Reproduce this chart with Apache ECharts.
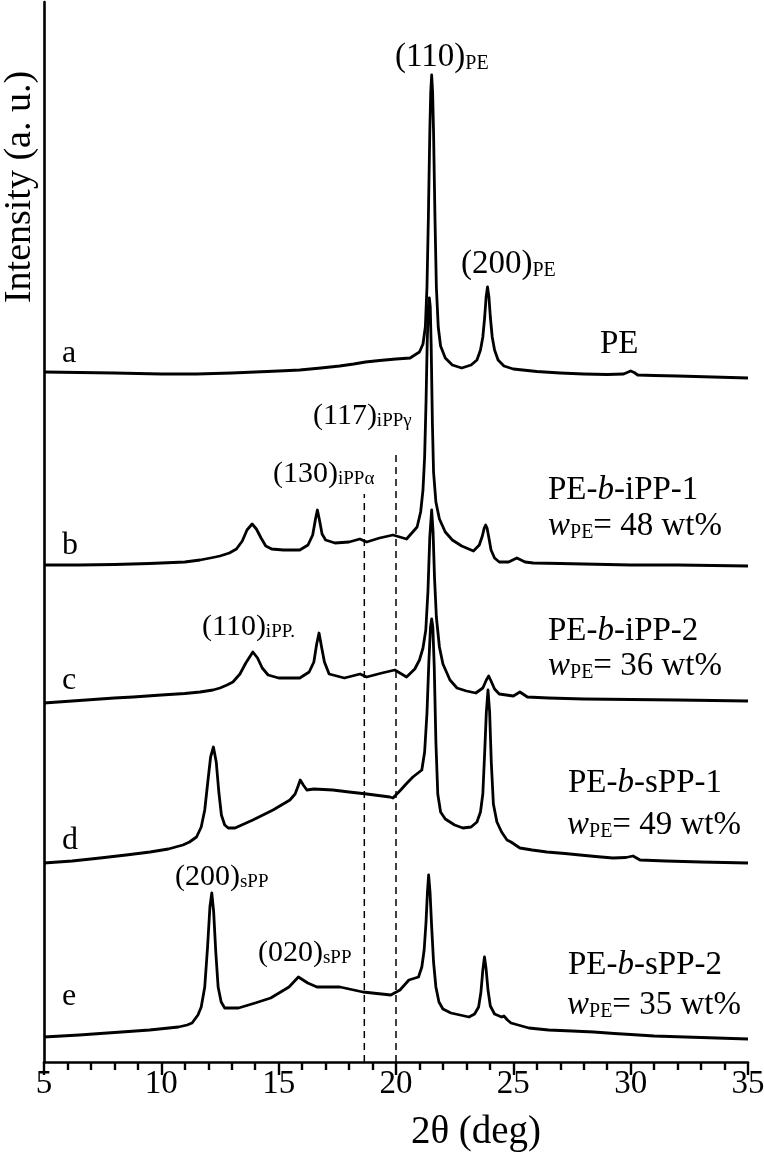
<!DOCTYPE html>
<html>
<head>
<meta charset="utf-8">
<title>XRD patterns of PE-b-iPP and PE-b-sPP</title>
<script src="https://cdn.jsdelivr.net/npm/echarts@6/dist/echarts.min.js"></script>
<style>
  html, body { margin: 0; padding: 0; background: #fff; }
  #main { width: 764px; height: 1156px; }
</style>
</head>
<body>
<div id="main"></div>
<script>
// 2theta (deg) vs stacked intensity (a. u.)
var curveA = [[5.0, 690], [6.5, 689.5], [8.0, 689], [10.0, 688], [11.5, 688], [13.0, 689], [14.0, 690], [15.0, 691], [15.9, 692], [16.8, 694], [17.6, 696], [18.2, 698], [18.7, 700], [19.3, 701.5], [20.0, 703], [20.6, 704], [21.0, 710], [21.15, 718], [21.25, 735], [21.32, 775], [21.38, 845], [21.44, 930], [21.48, 970], [21.52, 987], [21.56, 970], [21.6, 930], [21.66, 845], [21.72, 775], [21.8, 735], [21.9, 716], [22.1, 704], [22.4, 697], [22.8, 694], [23.2, 697], [23.45, 702], [23.6, 712], [23.7, 725], [23.78, 745], [23.84, 765], [23.9, 775], [23.96, 765], [24.02, 745], [24.1, 725], [24.2, 712], [24.35, 702], [24.6, 696], [25.0, 693], [26.0, 690.5], [27.0, 689], [28.0, 688], [29.0, 687.5], [29.7, 688], [29.9, 690], [30.0, 691], [30.15, 689.5], [30.3, 687], [31.0, 686.5], [32.0, 686], [33.5, 685], [35.0, 684]];

var curveB = [[5.0, 497], [6.5, 497], [8.0, 497.5], [9.5, 498.5], [11.0, 500], [11.65, 502], [12.2, 504.5], [12.5, 506], [12.9, 509], [13.2, 513], [13.45, 521], [13.65, 532], [13.87, 538], [14.05, 533], [14.25, 524], [14.45, 516], [14.7, 513], [15.2, 512], [15.9, 512], [16.25, 517], [16.45, 527], [16.57, 543], [16.65, 552], [16.73, 543], [16.85, 528], [17.0, 522], [17.4, 519], [18.0, 520], [18.46, 523], [18.75, 520], [19.3, 524], [19.87, 527], [20.45, 523], [20.9, 535], [21.05, 550], [21.15, 572], [21.22, 605], [21.28, 660], [21.33, 720], [21.38, 755], [21.42, 764], [21.46, 755], [21.5, 715], [21.55, 640], [21.6, 590], [21.7, 560], [21.85, 543], [22.1, 530], [22.4, 522], [22.8, 516], [23.3, 511], [23.55, 517], [23.68, 526], [23.76, 534], [23.82, 537], [23.88, 534], [23.96, 524], [24.05, 512], [24.2, 504], [24.4, 500], [24.8, 500], [25.15, 504], [25.5, 500], [25.85, 499], [27.0, 498.5], [28.0, 498], [30.0, 497], [32.0, 497], [35.0, 496]];

var curveC = [[5.0, 359], [6.5, 361.5], [8.0, 364], [8.8, 365], [10.0, 367], [11.0, 368.5], [11.65, 370], [12.2, 372], [12.5, 374], [12.8, 377], [13.05, 380], [13.35, 388], [13.6, 399], [13.9, 410], [14.1, 404], [14.3, 394], [14.55, 387], [15.0, 384], [15.9, 384], [16.3, 390], [16.5, 400], [16.62, 418], [16.72, 429], [16.82, 416], [16.95, 400], [17.15, 388], [17.8, 384], [18.47, 388], [18.75, 385], [19.4, 389], [19.95, 392], [20.45, 385], [20.8, 393], [21.0, 402], [21.15, 414], [21.27, 432], [21.36, 470], [21.44, 525], [21.52, 552], [21.58, 530], [21.64, 485], [21.72, 445], [21.85, 415], [22.0, 398], [22.3, 382], [22.6, 374], [23.0, 371], [23.4, 369], [23.7, 374], [23.85, 382], [23.95, 386], [24.05, 381], [24.2, 373], [24.4, 368], [25.0, 366], [25.28, 370], [25.6, 365], [26.5, 364], [28.0, 363], [30.0, 362.5], [32.0, 362], [35.0, 361]];

var curveD = [[5.0, 199], [6.2, 201], [7.39, 204], [8.5, 207], [9.52, 210], [10.3, 213], [10.92, 217], [11.2, 220], [11.5, 225], [11.7, 235], [11.85, 252], [11.98, 280], [12.1, 305], [12.22, 315], [12.34, 300], [12.45, 270], [12.56, 247], [12.7, 237], [12.85, 234], [13.14, 234], [13.9, 242], [14.76, 252], [15.48, 262], [15.7, 268], [15.83, 276], [15.92, 282], [16.05, 277], [16.2, 272], [16.5, 273], [17.31, 272], [18.0, 270], [18.76, 268], [19.74, 265], [19.87, 264], [20.2, 272], [20.47, 279], [20.72, 285], [21.1, 292], [21.22, 310], [21.32, 349], [21.4, 400], [21.47, 435], [21.52, 443], [21.57, 435], [21.63, 395], [21.7, 320], [21.78, 268], [21.9, 250], [22.1, 243], [22.5, 237], [22.85, 234], [23.2, 235], [23.45, 240], [23.6, 250], [23.7, 268], [23.78, 310], [23.85, 350], [23.92, 372], [23.99, 350], [24.06, 300], [24.15, 258], [24.3, 240], [24.5, 230], [24.73, 222], [24.9, 220], [25.28, 214], [25.8, 212], [26.43, 210], [27.2, 208.5], [27.84, 207], [28.5, 205.5], [29.24, 204], [29.8, 204.5], [30.1, 206], [30.4, 202], [31.5, 201], [33.0, 200], [35.0, 199]];

var curveE = [[5.0, 25], [6.5, 27], [8.0, 29.5], [9.5, 32], [10.73, 35], [11.1, 37], [11.31, 39], [11.56, 47], [11.7, 55], [11.85, 75], [11.97, 115], [12.07, 155], [12.15, 169], [12.23, 150], [12.32, 110], [12.42, 75], [12.55, 60], [12.7, 54], [13.29, 54], [14.0, 59], [14.66, 64], [15.44, 75], [15.84, 85], [16.24, 79], [16.63, 75], [17.61, 75], [18.59, 70], [19.78, 67], [20.17, 72], [20.55, 82], [20.96, 85], [21.1, 95], [21.2, 112], [21.28, 140], [21.34, 170], [21.39, 187], [21.45, 170], [21.52, 135], [21.6, 100], [21.7, 75], [21.83, 60], [22.0, 53], [22.34, 49], [23.11, 45], [23.35, 48], [23.52, 55], [23.62, 70], [23.7, 92], [23.77, 105], [23.84, 93], [23.92, 72], [24.02, 56], [24.2, 48], [24.5, 45], [24.6, 46], [24.75, 42], [24.9, 39], [25.66, 34], [26.5, 32], [27.5, 31], [28.43, 30], [29.3, 28.5], [30.0, 27.5], [31.0, 26], [33.0, 24.5], [35.0, 23]];

// dashed reference lines: (130) iPP alpha and (117) iPP gamma
var dashX = [18.65, 20.0];
var dashTop = [568, 612];

var xMin = 5, xMax = 35, xStep = 5;

var FONT = 'Liberation Serif';
var myChart = echarts.init(document.getElementById('main'));

function txt(x, bl, parts, size) {
  // parts: [[text, style]] ; style 'm' normal, 'i' italic, 's' subscript
  var rich = {
    m: { fontSize: size, fontFamily: FONT, fill: '#000', verticalAlign: 'bottom' },
    i: { fontSize: size, fontFamily: FONT, fontStyle: 'italic', fill: '#000', verticalAlign: 'bottom' },
    s: { fontSize: Math.round(size * 0.62), fontFamily: FONT, fill: '#000', verticalAlign: 'bottom' }
  };
  var str = parts.map(function (p) { return '{' + p[1] + '|' + p[0] + '}'; }).join('');
  return {
    type: 'text',
    x: x,
    y: bl + Math.round(size * 0.16),
    silent: true,
    style: { text: str, rich: rich, align: 'left', verticalAlign: 'bottom' }
  };
}

var graphics = [
  txt(395, 69, [['(110)', 'm'], ['PE', 's']], 33),
  txt(461, 276, [['(200)', 'm'], ['PE', 's']], 33),
  txt(600, 356, [['PE', 'm']], 33),
  txt(313, 426, [['(117)', 'm'], ['iPPγ', 's']], 30),
  txt(273, 484, [['(130)', 'm'], ['iPPα', 's']], 30),
  txt(202, 637, [['(110)', 'm'], ['iPP.', 's']], 30),
  txt(175, 887, [['(200)', 'm'], ['sPP', 's']], 30),
  txt(258, 963, [['(020)', 'm'], ['sPP', 's']], 30),
  txt(62, 365, [['a', 'm']], 32),
  txt(62, 557, [['b', 'm']], 32),
  txt(62, 692, [['c', 'm']], 32),
  txt(62, 852, [['d', 'm']], 32),
  txt(62, 1008, [['e', 'm']], 32),
  txt(548, 502, [['PE-', 'm'], ['b', 'i'], ['-iPP-1', 'm']], 33),
  txt(548, 538, [['w', 'i'], ['PE', 's'], ['= 48 wt%', 'm']], 33),
  txt(548, 643, [['PE-', 'm'], ['b', 'i'], ['-iPP-2', 'm']], 33),
  txt(548, 678, [['w', 'i'], ['PE', 's'], ['= 36 wt%', 'm']], 33),
  txt(568, 795, [['PE-', 'm'], ['b', 'i'], ['-sPP-1', 'm']], 33),
  txt(567, 837, [['w', 'i'], ['PE', 's'], ['= 49 wt%', 'm']], 33),
  txt(568, 977, [['PE-', 'm'], ['b', 'i'], ['-sPP-2', 'm']], 33),
  txt(567, 1017, [['w', 'i'], ['PE', 's'], ['= 35 wt%', 'm']], 33),
  {
    type: 'text',
    x: 20,
    y: 187,
    rotation: Math.PI / 2,
    silent: true,
    style: { text: 'Intensity (a. u.)', fontSize: 38, fontFamily: FONT, fill: '#000', align: 'center', verticalAlign: 'middle' }
  },
  {
    type: 'text',
    x: 476,
    y: 1133,
    silent: true,
    style: { text: '2θ (deg)', fontSize: 39, fontFamily: FONT, fill: '#000', align: 'center', verticalAlign: 'middle' }
  }
];

function curve(name, data) {
  return {
    name: name,
    type: 'line',
    data: data,
    symbol: 'none',
    smooth: false,
    lineStyle: { color: '#000', width: 2.8, join: 'round' },
    z: 3
  };
}

var series = [
  curve('a', curveA),
  curve('b', curveB),
  curve('c', curveC),
  curve('d', curveD),
  curve('e', curveE)
];
for (var i = 0; i < dashX.length; i++) {
  series.push({
    type: 'line',
    data: [[dashX[i], 0], [dashX[i], dashTop[i]]],
    symbol: 'none',
    lineStyle: { color: '#000', width: 1.5, type: [7, 5] },
    z: 2
  });
}

var option = {
  animation: false,
  backgroundColor: '#fff',
  grid: {
    left: 44,
    right: 16,
    top: 2,
    bottom: 94,
    containLabel: false,
    outerBoundsMode: 'none'
  },
  xAxis: {
    type: 'value',
    min: xMin,
    max: xMax,
    interval: xStep,
    axisLine: { lineStyle: { color: '#000', width: 2.6 } },
    axisTick: { length: 13, lineStyle: { color: '#000', width: 2.4 } },
    minorTick: { show: true, splitNumber: 5, length: 8, lineStyle: { color: '#000', width: 2.4 } },
    axisLabel: { color: '#000', fontSize: 33, fontFamily: FONT, margin: 6 },
    splitLine: { show: false }
  },
  yAxis: {
    type: 'value',
    min: 0,
    max: 1060,
    axisLine: { show: true, lineStyle: { color: '#000', width: 2.6 } },
    axisTick: { show: false },
    axisLabel: { show: false },
    splitLine: { show: false }
  },
  series: series,
  graphic: graphics
};

myChart.setOption(option);
</script>
</body>
</html>
